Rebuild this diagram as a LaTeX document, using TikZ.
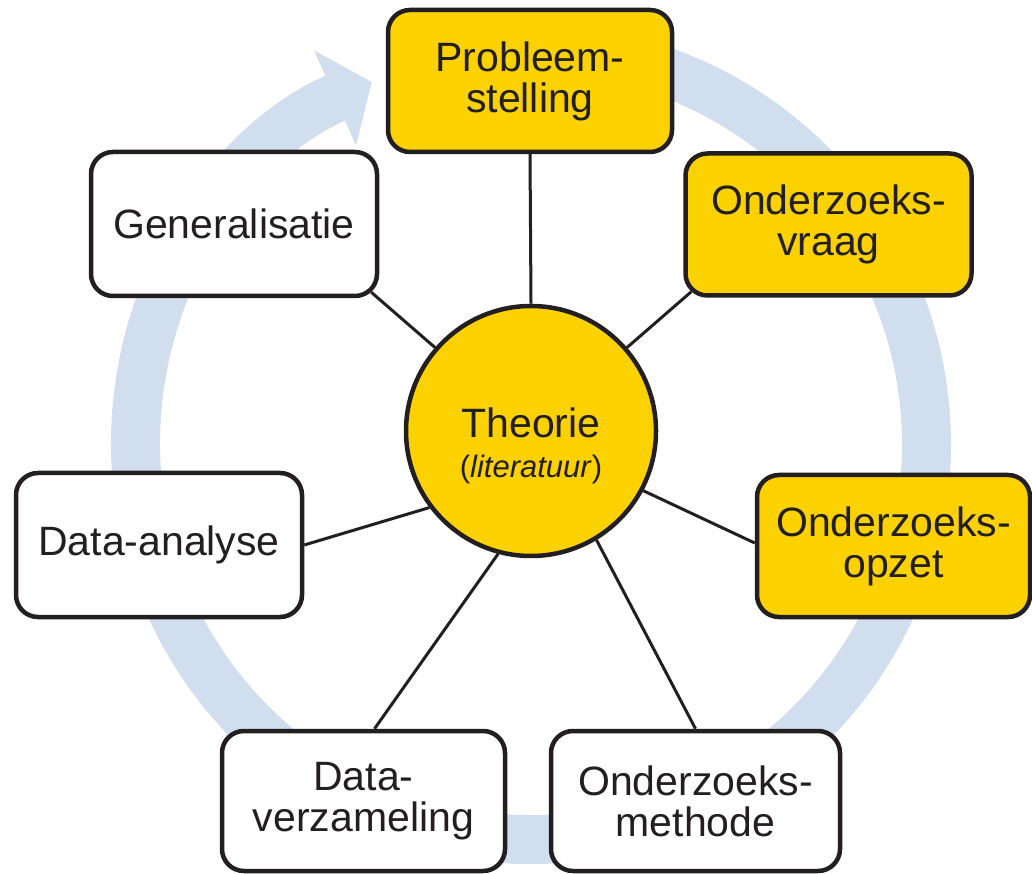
\documentclass[tikz,border=0pt]{standalone}
\usepackage{fontspec}
\setmainfont{Liberation Sans}
\usepackage{xcolor}
\usepackage{tikz}
\usetikzlibrary{arrows.meta, backgrounds}
\pgfdeclarelayer{background}
\pgfsetlayers{background,main}
\definecolor{keycolor}{RGB}{252,209,0}
\definecolor{ringcolor}{RGB}{208,222,238}
\definecolor{inkcolor}{RGB}{35,31,32}
\tikzset{
  stage/.style={
    draw=inkcolor, line width=4.5pt, rounded corners=22pt, fill=white,
    minimum width=286pt, minimum height=142pt, inner sep=0pt,
    align=center, text=inkcolor, font=\fontsize{41}{41}\selectfont
  },
  keystage/.style={stage, fill=keycolor},
  theory/.style={circle, draw=inkcolor, line width=4.5pt, fill=keycolor,
    minimum size=250pt, inner sep=0pt, align=center, text=inkcolor,
    font=\fontsize{41}{40}\selectfont},
  spoke/.style={draw=inkcolor, line width=3pt},
  % big pale research-cycle arrow behind everything
  loopring/.style={ringcolor, line width=49pt,
    -{Triangle[length=40pt, width=102pt]}},
}

\begin{document}
\begin{tikzpicture}[x=1pt, y=1pt]
\useasboundingbox (0,0) rectangle (1032,873);

%% ── centre ──────────────────────────────────────────────────────
\node[theory] (theorie) at (531,442)
  {\raisebox{-47pt}[0pt][0pt]{\begin{tabular}[b]{@{}c@{}}Theorie\\
   {\fontsize{31}{31}\selectfont(\textit{literatuur})}\end{tabular}}};
\coordinate (ringmid) at (531,429);

%% ── stages of the research cycle (clockwise from top) ───────────
\node[keystage, minimum width=284pt] (probleem) at (530,792) {Probleem-\\stelling};
\node[keystage] (vraag)   at (828.5,648.5) {Onderzoeks-\\vraag};
\node[keystage, minimum width=273pt] (opzet) at (893.5,327) {Onderzoeks-\\opzet};
\node[stage, minimum width=289pt, minimum height=140pt] (methode) at (695.5,72) {Onderzoeks-\\methode};
\node[stage, minimum width=283pt, minimum height=140pt] (verzameling) at (363.5,72) {Data-\\verzameling};
\node[stage, minimum height=144pt] (analyse) at (159,328) {Data-analyse};
\node[stage, minimum height=144pt] (generalisatie) at (234,649) {Generalisatie};

\begin{pgfonlayer}{background}
  %% ── cycle ring ──────────────────────────────────────────────
  \draw[loopring] (ringmid) ++(95:395.5)
    arc[start angle=95, end angle=-246.25, radius=395.5];

  %% ── spokes from theory to each stage ────────────────────────
  \draw[spoke] (theorie.90)   -- (probleem.south);
  \draw[spoke] (theorie.41)   -- ([shift={(8pt,6pt)}]vraag.south west);
  \draw[spoke] (theorie.-28)  -- ([yshift=3pt]opzet.west);
  \draw[spoke] (theorie.-59)  -- (methode.north);
  \draw[spoke] (theorie.-105) -- ([xshift=11pt]verzameling.north);
  \draw[spoke] (theorie.217)  -- (analyse.east);
  \draw[spoke] (theorie.139)  -- ([shift={(-8pt,6pt)}]generalisatie.south east);
\end{pgfonlayer}

\end{tikzpicture}
\end{document}
